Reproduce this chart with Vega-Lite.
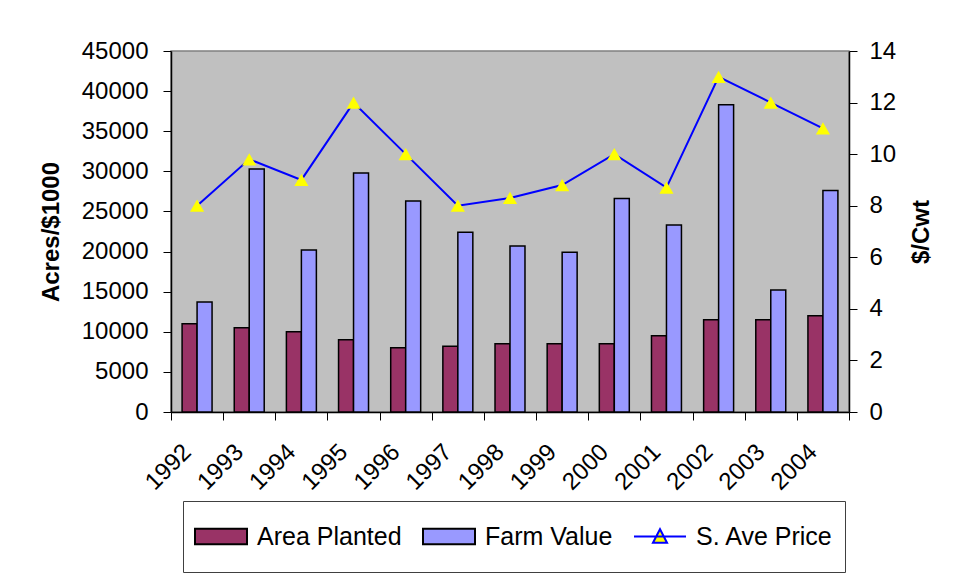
{
  "$schema": "https://vega.github.io/schema/vega-lite/v6.json",
  "autosize": {"type": "none"},
  "padding": {"left": 171, "top": 51, "right": 104, "bottom": 166},
  "width": 678,
  "height": 361,
  "background": "white",
  "config": {
    "font": "Liberation Sans",
    "view": {"fill": "#C0C0C0", "stroke": "#808080", "strokeWidth": 1.5},
    "axis": {
      "domainColor": "black", "domainWidth": 1.5, "tickColor": "black", "tickWidth": 1,
      "labelColor": "black", "labelFont": "Liberation Sans", "labelFontSize": 24,
      "titleFont": "Liberation Sans", "titleFontSize": 24, "titleFontWeight": "bold", "titleColor": "black",
      "grid": false, "tickSize": 8
    }
  },
  "datasets": {
    "rows": [
      {"year": "1992", "series": "Area Planted", "value": 11000},
      {"year": "1992", "series": "Farm Value", "value": 13700},
      {"year": "1992", "series": "S. Ave Price", "value": 8},
      {"year": "1993", "series": "Area Planted", "value": 10500},
      {"year": "1993", "series": "Farm Value", "value": 30300},
      {"year": "1993", "series": "S. Ave Price", "value": 9.8},
      {"year": "1994", "series": "Area Planted", "value": 10000},
      {"year": "1994", "series": "Farm Value", "value": 20200},
      {"year": "1994", "series": "S. Ave Price", "value": 9},
      {"year": "1995", "series": "Area Planted", "value": 9000},
      {"year": "1995", "series": "Farm Value", "value": 29800},
      {"year": "1995", "series": "S. Ave Price", "value": 12},
      {"year": "1996", "series": "Area Planted", "value": 8000},
      {"year": "1996", "series": "Farm Value", "value": 26300},
      {"year": "1996", "series": "S. Ave Price", "value": 10},
      {"year": "1997", "series": "Area Planted", "value": 8200},
      {"year": "1997", "series": "Farm Value", "value": 22400},
      {"year": "1997", "series": "S. Ave Price", "value": 8},
      {"year": "1998", "series": "Area Planted", "value": 8500},
      {"year": "1998", "series": "Farm Value", "value": 20700},
      {"year": "1998", "series": "S. Ave Price", "value": 8.3},
      {"year": "1999", "series": "Area Planted", "value": 8500},
      {"year": "1999", "series": "Farm Value", "value": 19900},
      {"year": "1999", "series": "S. Ave Price", "value": 8.8},
      {"year": "2000", "series": "Area Planted", "value": 8500},
      {"year": "2000", "series": "Farm Value", "value": 26600},
      {"year": "2000", "series": "S. Ave Price", "value": 10},
      {"year": "2001", "series": "Area Planted", "value": 9500},
      {"year": "2001", "series": "Farm Value", "value": 23300},
      {"year": "2001", "series": "S. Ave Price", "value": 8.7},
      {"year": "2002", "series": "Area Planted", "value": 11500},
      {"year": "2002", "series": "Farm Value", "value": 38300},
      {"year": "2002", "series": "S. Ave Price", "value": 13},
      {"year": "2003", "series": "Area Planted", "value": 11500},
      {"year": "2003", "series": "Farm Value", "value": 15200},
      {"year": "2003", "series": "S. Ave Price", "value": 12},
      {"year": "2004", "series": "Area Planted", "value": 12000},
      {"year": "2004", "series": "Farm Value", "value": 27600},
      {"year": "2004", "series": "S. Ave Price", "value": 11}
    ]
  },
  "data": {"name": "rows"},
  "layer": [
    {
      "transform": [{"filter": "datum.series !== 'S. Ave Price'"}],
      "mark": {"type": "bar", "stroke": "black", "strokeWidth": 1.5},
      "encoding": {
        "x": {
          "field": "year", "type": "nominal",
          "scale": {"paddingInner": 0, "paddingOuter": 0},
          "axis": {
            "title": null, "tickBand": "extent", "labelAngle": -45, "labelAlign": "right",
            "labelBaseline": "middle", "labelPadding": 28, "labelOffset": -10
          }
        },
        "xOffset": {
          "field": "series", "type": "nominal",
          "scale": {"domain": ["Area Planted", "Farm Value"], "paddingInner": 0, "paddingOuter": 0.74}
        },
        "y": {
          "field": "value", "type": "quantitative",
          "scale": {"domain": [0, 45000], "nice": false},
          "axis": {
            "title": "Acres/$1000", "values": [0, 5000, 10000, 15000, 20000, 25000, 30000, 35000, 40000, 45000],
            "format": "d", "labelPadding": 15, "titlePadding": 18
          }
        },
        "fill": {
          "field": "series", "type": "nominal",
          "scale": {"domain": ["Area Planted", "Farm Value", "S. Ave Price"], "range": ["#993366", "#9999FF", "#FFFF00"]},
          "legend": {
            "orient": "none", "legendX": 12, "legendY": 450, "direction": "horizontal", "columns": 3,
            "title": null, "symbolSize": 2704, "symbolStrokeWidth": 2, "symbolStrokeColor": "black",
            "labelFontSize": 25, "labelFont": "Liberation Sans", "labelColor": "black", "labelOffset": 9, "labelLimit": 300,
            "columnPadding": 20, "padding": 11, "strokeColor": "#404040", "fillColor": "white", "clipHeight": 49,
            "symbolOpacity": 1,
            "encode": {
              "symbols": {
                "update": {
                  "shape": {"signal": "datum.value === 'S. Ave Price' ? 'M-1,0L1,0M-0.27,0.24L0,-0.28L0.27,0.24Z' : 'M-1,-0.3L1,-0.3L1,0.3L-1,0.3Z'"},
                  "stroke": {"signal": "datum.value === 'S. Ave Price' ? '#0000FF' : 'black'"},
                  "strokeWidth": {"value": 2}
                }
              }
            }
          }
        }
      }
    },
    {
      "transform": [{"filter": "datum.series === 'S. Ave Price'"}],
      "encoding": {
        "x": {"field": "year", "type": "nominal"},
        "y": {
          "field": "value", "type": "quantitative",
          "scale": {"domain": [0, 14], "nice": false},
          "axis": {
            "orient": "right", "title": "$/Cwt", "values": [0, 2, 4, 6, 8, 10, 12, 14],
            "labelPadding": 12, "titlePadding": 38, "titleAngle": 270
          }
        }
      },
      "layer": [
        {"mark": {"type": "line", "color": "#0000FF", "strokeWidth": 2}},
        {
          "mark": {"type": "point", "shape": "triangle-up", "filled": true, "size": 200, "opacity": 1, "strokeWidth": 0},
          "encoding": {"fill": {"field": "series", "type": "nominal"}}
        }
      ]
    }
  ],
  "resolve": {"scale": {"y": "independent"}}
}
